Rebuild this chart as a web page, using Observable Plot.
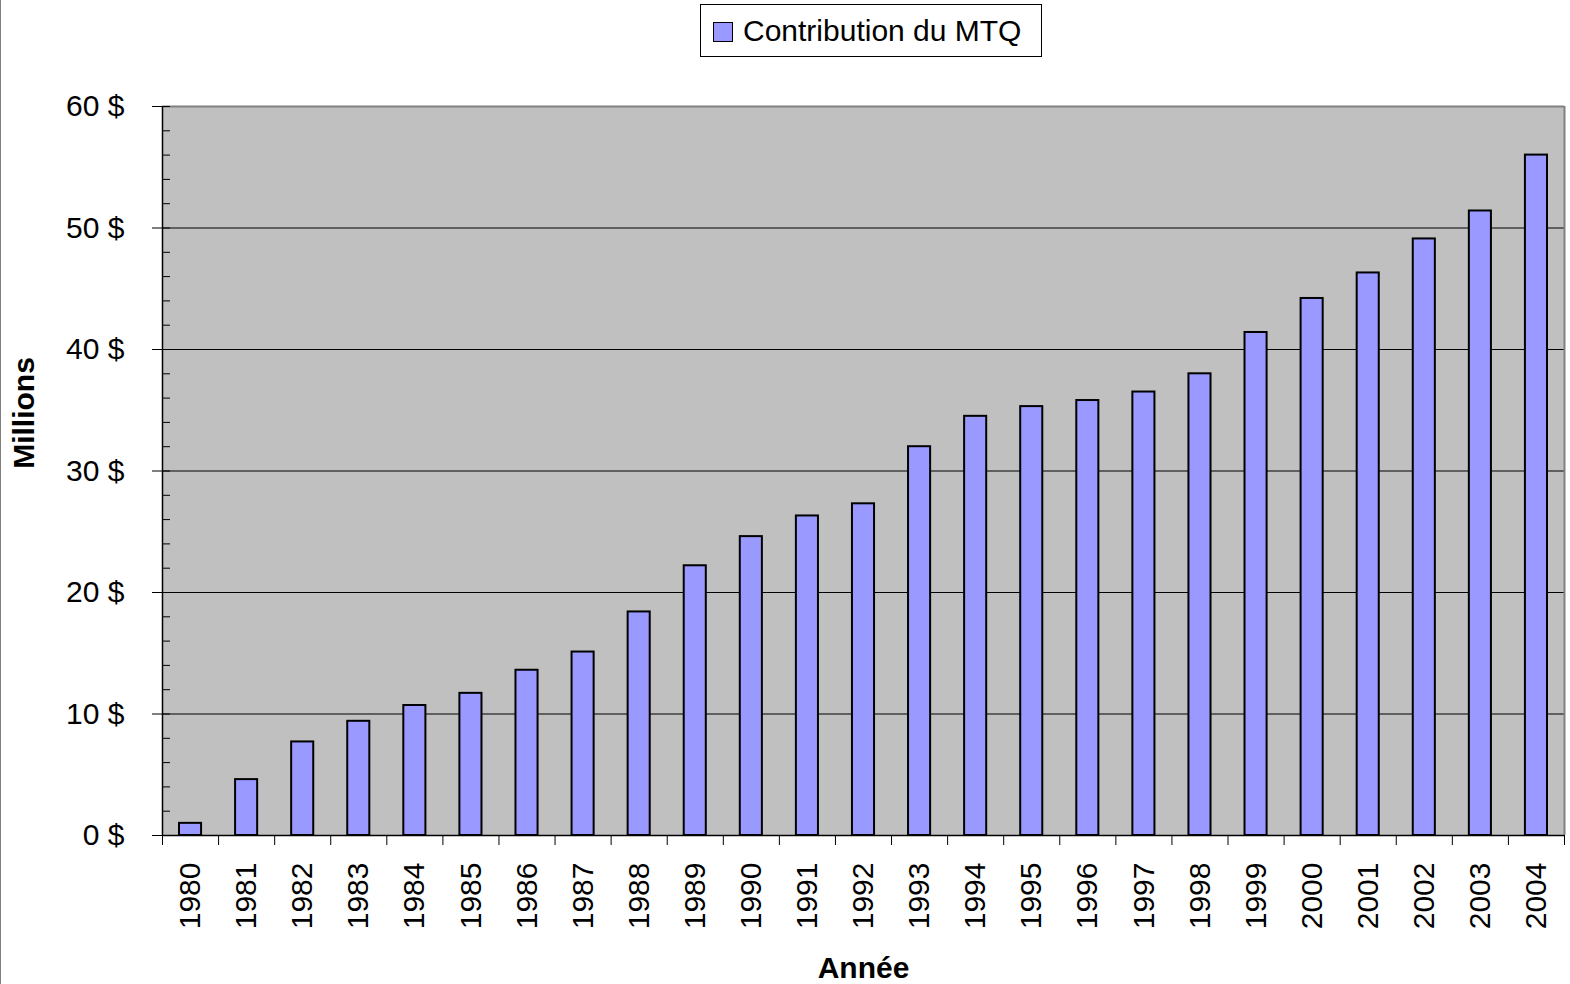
<!DOCTYPE html>
<html><head><meta charset="utf-8">
<script src="https://cdn.jsdelivr.net/npm/d3@7"></script>
<script src="https://cdn.jsdelivr.net/npm/@observablehq/plot@0.6"></script>
<style>
body{margin:0;background:#fff;font-family:"Liberation Sans",Arial,sans-serif;}
#wrap{position:relative;width:1570px;height:984px;overflow:hidden;background:#fff;}
#edge{position:absolute;left:0;top:0;width:1px;height:984px;background:#808080;}
#legend{position:relative;height:60px;}
#legbox{position:absolute;left:700px;top:4px;width:342px;height:53px;border:1px solid #000;box-sizing:border-box;background:#fff;}
#swatch{position:absolute;left:12px;top:17px;width:20px;height:20px;border:1px solid #000;box-sizing:border-box;background:#9999FF;}
#legtext{position:absolute;left:42px;top:11px;font-size:30px;line-height:30px;color:#000;white-space:nowrap;}
svg{display:block;}
</style>
</head><body>
<div id="wrap">
  <div id="legend"><div id="legbox"><div id="swatch"></div><div id="legtext">Contribution du MTQ</div></div></div>
  <div id="chart"></div>
  <div id="edge"></div>
</div>
<script>
const years = [1980,1981,1982,1983,1984,1985,1986,1987,1988,1989,1990,1991,1992,1993,1994,1995,1996,1997,1998,1999,2000,2001,2002,2003,2004];
const values = [1.0,4.6,7.7,9.4,10.7,11.7,13.6,15.1,18.4,22.2,24.6,26.3,27.3,32.0,34.5,35.3,35.8,36.5,38.0,41.4,44.2,46.3,49.1,51.4,56.0];
const yTicks = [0,10,20,30,40,50,60];
const gridTicks = [10,20,30,40,50];
const minorTicks = [0,2,4,6,8,10,12,14,16,18,20,22,24,26,28,30,32,34,36,38,40,42,44,46,48,50,52,54,56,58,60];
const seriesName = "Contribution du MTQ";
const yLabel = "Millions";
const xLabel = "Année";

const data = years.map((year, i) => ({year, value: values[i]}));
const boundaries = years.map(y => y - 0.5).concat([years[years.length - 1] + 0.5]);
const xDomain = [boundaries[0], boundaries[boundaries.length - 1]];

const chart = Plot.plot({
  width: 1570,
  height: 924,
  marginTop: 46,
  marginBottom: 149,
  marginLeft: 162,
  marginRight: 6,
  style: {fontFamily: "'Liberation Sans', Arial, sans-serif", fontSize: "30px", color: "#000", background: "transparent", overflow: "visible"},
  x: {type: "linear", domain: xDomain, axis: null},
  y: {domain: [0, 60], axis: null},
  marks: [
    Plot.frame({fill: "#C0C0C0", stroke: null}),
    Plot.gridY(gridTicks, {stroke: "#000", strokeOpacity: 1, strokeWidth: 1}),
    Plot.ruleY([yTicks[yTicks.length - 1]], {stroke: "#808080", strokeWidth: 2}),
    Plot.ruleX([xDomain[1]], {stroke: "#808080", strokeWidth: 2}),
    Plot.rectY(data, {x1: d => d.year - 0.5, x2: d => d.year + 0.5, y: "value", insetLeft: 17, insetRight: 17, fill: "#9999FF", stroke: "#000", strokeWidth: 2}),
    Plot.ruleY([0], {stroke: "#000", strokeWidth: 1.5}),
    Plot.ruleX([xDomain[0]], {stroke: "#000", strokeWidth: 1.5}),
    Plot.axisY({ticks: yTicks, tickSize: 10, tickPadding: 28, tickFormat: d => `${d} $`, fontSize: 30, label: null, stroke: "#000"}),
    Plot.axisY({ticks: minorTicks, tickSize: -8, tickFormat: () => "", label: null, stroke: "#000"}),
    Plot.axisX({ticks: boundaries, tickSize: 10, tickFormat: () => "", label: null, stroke: "#000"}),
    Plot.axisX({ticks: years, tickSize: 0, tickPadding: 27, tickRotate: -90, fontSize: 30, tickFormat: d => String(d), label: null}),
    Plot.text([yLabel], {text: d => d, frameAnchor: "left", textAnchor: "middle", rotate: -90, dx: -138, dy: -58, fontSize: 30, fontWeight: "bold", fill: "#000"}),
    Plot.text([xLabel], {text: d => d, frameAnchor: "bottom", dy: 142, fontSize: 30, fontWeight: "bold", fill: "#000"})
  ]
});
document.getElementById("chart").appendChild(chart);
</script>
</body></html>
